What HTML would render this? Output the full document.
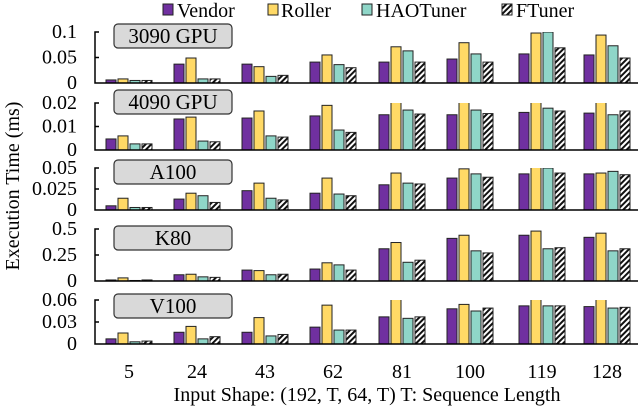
<!DOCTYPE html>
<html><head><meta charset="utf-8"><style>
body{margin:0;background:#fff;}
svg, svg text{font-family:"Liberation Serif","DejaVu Serif",serif;}
</style></head><body>
<svg id="chart" width="640" height="406" viewBox="0 0 640 406" xmlns="http://www.w3.org/2000/svg" font-family="Liberation Serif, DejaVu Serif, serif">
<defs>
<pattern id="hatch" patternUnits="userSpaceOnUse" width="4" height="4" patternTransform="rotate(45)">
<rect width="4" height="4" fill="#fff"/><rect width="2" height="4" fill="#111"/>
</pattern>
</defs>
<g id="legend">
<rect x="163" y="4" width="10" height="11" fill="#7030a0" stroke="#222"/>
<text x="177" y="17" font-size="20">Vendor</text>
<rect x="268" y="4" width="10" height="11" fill="#ffd966" stroke="#222"/>
<text x="281" y="17" font-size="20">Roller</text>
<rect x="362" y="4" width="10" height="11" fill="#8fd6c8" stroke="#222"/>
<text x="376" y="17" font-size="20">HAOTuner</text>
<rect x="502" y="4" width="10" height="11" fill="url(#hatch)" stroke="#222"/>
<text x="516" y="17" font-size="20">FTuner</text>
</g>
<text transform="translate(19,186) rotate(-90)" text-anchor="middle" font-size="20">Execution Time (ms)</text>
<text x="367" y="401" text-anchor="middle" font-size="20">Input Shape: (192, T, 64, T) T: Sequence Length</text>
</svg>
<script>
const categories=["5","24","43","62","81","100","119","128"];
const panelNames=["3090 GPU","4090 GPU","A100","K80","V100"];
const tickLabels=[["0","0.05","0.1"],["0","0.01","0.02"],["0","0.025","0.05"],["0","0.25","0.5"],["0","0.03","0.06"]];
const tickValues=[[0,0.05,0.1],[0,0.01,0.02],[0,0.025,0.05],[0,0.25,0.5],[0,0.03,0.06]];
const seriesNames=["Vendor","Roller","HAOTuner","FTuner"];
const vendor3090=[0.006,0.037,0.037,0.041,0.041,0.047,0.057,0.055];
const roller3090=[0.008,0.049,0.032,0.055,0.071,0.079,0.098,0.094];
const hao3090=[0.005,0.008,0.013,0.036,0.063,0.057,0.1,0.073];
const ft3090=[0.005,0.008,0.015,0.03,0.041,0.041,0.069,0.049];
const vendor4090=[0.0047,0.0132,0.0136,0.0145,0.015,0.015,0.016,0.0157];
const roller4090=[0.006,0.014,0.0166,0.019,0.021,0.021,0.021,0.021];
const hao4090=[0.0026,0.0038,0.006,0.0085,0.017,0.017,0.0178,0.015];
const ft4090=[0.0026,0.0035,0.0055,0.0075,0.0153,0.0155,0.0166,0.0166];
const vendorA100=[0.005,0.013,0.023,0.02,0.03,0.038,0.043,0.043];
const rollerA100=[0.014,0.02,0.032,0.038,0.044,0.049,0.052,0.044];
const haoA100=[0.003,0.017,0.014,0.019,0.032,0.043,0.05,0.046];
const ftA100=[0.003,0.009,0.012,0.017,0.031,0.039,0.044,0.042];
const vendorK80=[0.01,0.06,0.105,0.115,0.31,0.41,0.44,0.42];
const rollerK80=[0.03,0.065,0.1,0.175,0.37,0.44,0.48,0.46];
const haoK80=[0.005,0.04,0.06,0.155,0.18,0.29,0.31,0.29];
const ftK80=[0.01,0.035,0.065,0.105,0.2,0.27,0.32,0.31];
const vendorV100=[0.007,0.016,0.016,0.023,0.037,0.048,0.052,0.051];
const rollerV100=[0.015,0.024,0.036,0.053,0.063,0.054,0.063,0.063];
const haoV100=[0.003,0.007,0.011,0.019,0.035,0.045,0.052,0.049];
const ftV100=[0.004,0.01,0.013,0.019,0.037,0.049,0.052,0.05];
const panelData=[[vendor3090,roller3090,hao3090,ft3090],[vendor4090,roller4090,hao4090,ft4090],[vendorA100,rollerA100,haoA100,ftA100],[vendorK80,rollerK80,haoK80,ftK80],[vendorV100,rollerV100,haoV100,ftV100]];

const NS="http://www.w3.org/2000/svg";
const svg=document.getElementById('chart');
const fills=["#7030a0","#ffd966","#8fd6c8","url(#hatch)"];
const panels=[{top:32,base:83,box:24},{top:103,base:150,box:90},{top:168,base:210,box:160},{top:229,base:281,box:226},{top:300,base:344,box:294}];
const x0=95,x1=638;
const groupCenters=[129,197,265,333,402,470,542,607];
function xScale(i,s){return groupCenters[i]-23+s*12;}
function mk(tag,attrs){const e=document.createElementNS(NS,tag);for(const k in attrs)e.setAttribute(k,attrs[k]);return e;}
panels.forEach((p,pi)=>{
  const g=mk('g',{});
  
  
  svg.appendChild(g);
  const maxV=tickValues[pi][2];
  const yScale=v=>p.base-(v/maxV)*(p.base-p.top);
  const cp=mk('clipPath',{id:'clip'+pi});
  cp.appendChild(mk('rect',{x:x0,y:p.top,width:x1-x0,height:p.base-p.top+1}));
  svg.querySelector('defs').appendChild(cp);
  const bars=mk('g',{'clip-path':'url(#clip'+pi+')'});
  g.appendChild(bars);
  panelData[pi].forEach((ser,si)=>{
    ser.forEach((v,ci)=>{
      const y=yScale(v);
      const r=mk('rect',{x:xScale(ci,si),y:y,width:10,height:p.base-y,fill:fills[si],stroke:'#222','stroke-width':1});
      
      
      bars.appendChild(r);
    });
  });
  const ax=mk('path',{d:`M${x0+4},${p.top}H${x0}V${p.base}H${x1}M${x0},${yScale(tickValues[pi][1])}H${x0+4}`,stroke:'#000','stroke-width':1.5,fill:'none'});
  
  
  g.appendChild(ax);
  tickLabels[pi].forEach((t,ti)=>{
    const tx=mk('text',{x:77,y:yScale(tickValues[pi][ti])+6,'text-anchor':'end','font-size':20});
    tx.textContent=t;
    
    
    g.appendChild(tx);
  });
  const box=mk('rect',{x:114,y:p.box,width:118,height:24,rx:4,fill:'#d9d9d9',stroke:'#333','stroke-width':1.2});
  
  
  g.appendChild(box);
  const bt=mk('text',{x:173,y:p.box+19,'text-anchor':'middle','font-size':21});
  bt.textContent=panelNames[pi];
  
  
  g.appendChild(bt);
});
categories.forEach((c,ci)=>{
  const t=mk('text',{x:groupCenters[ci],y:378,'text-anchor':'middle','font-size':20});
  t.textContent=c;
  
  
  svg.appendChild(t);
});
</script>
</body></html>
